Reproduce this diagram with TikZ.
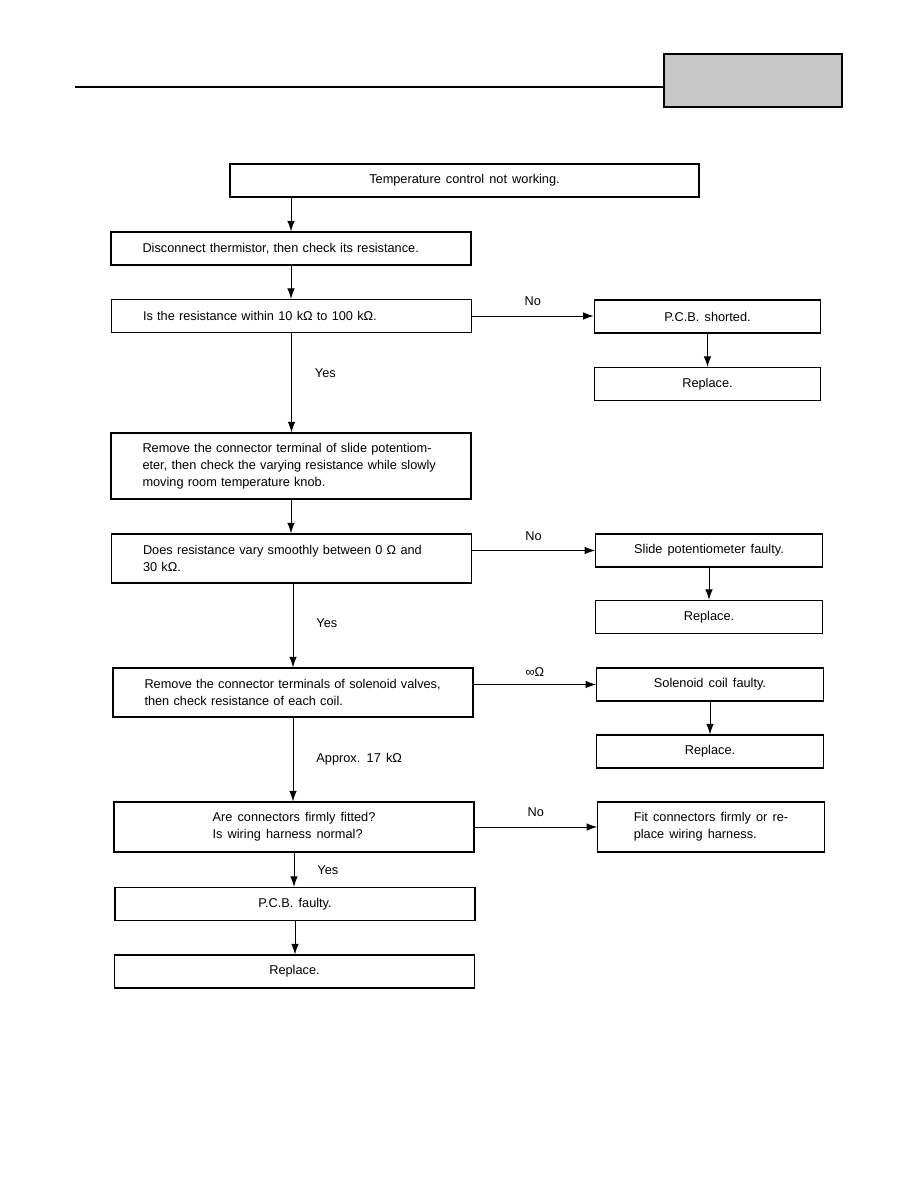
\documentclass[tikz,border=0pt]{standalone}
\usepackage{fontspec}
\setmainfont{Liberation Sans}[WordSpace=1.45]
\usetikzlibrary{arrows.meta}

\begin{document}
\begin{tikzpicture}[
  x=0.6667pt, y=-0.6667pt,
  >={Latex[length=7pt,width=5pt]},
  font=\fontsize{8.5}{11.5}\selectfont,
  box/.style={draw, line width=0.8pt, minimum height=22pt, inner sep=0pt},
  lbox/.style={box, minimum width=240pt, text width=198pt, align=left},
  cbox/.style={box, minimum width=240pt, align=center},
  rbox/.style={box, minimum width=151pt, align=center},
  link/.style={->, line width=0.6pt},
]
\useasboundingbox (0,0) rectangle (918,1188);

% Header rule and tab
\draw[line width=0.9pt] (75,87) -- (664,87);
\draw[line width=0.9pt, fill=black!22] (664,54) rectangle (842,107);

% Main column
\node[box, minimum width=312.7pt] (start) at (464.5,180.5) {Temperature control not working.};
\node[lbox] (thermo) at (291,248.5) {Disconnect thermistor, then check its resistance.};
\node[lbox] (within) at (291.5,316) {Is the resistance within 10 kΩ to 100 kΩ.};
\node[lbox, minimum height=44pt] (slide) at (291,466)
  {Remove the connector terminal of slide potentiom-\\
   eter, then check the varying resistance while slowly\\
   moving room temperature knob.};
\node[lbox, minimum height=32.7pt] (vary) at (291.5,558.5)
  {Does resistance vary smoothly between 0 Ω and\\30 kΩ.};
\node[lbox, minimum height=32.7pt] (coil) at (293,692.5)
  {Remove the connector terminals of solenoid valves,\\then check resistance of each coil.};
\node[box, minimum width=240pt, minimum height=33.3pt, align=left] (fitted) at (294,827)
  {Are connectors firmly fitted?\\Is wiring harness normal?};
\node[cbox] (pcbf) at (295,904) {P.C.B. faulty.};
\node[cbox] (repD) at (294.5,971.5) {Replace.};

% Right column
\node[rbox] (pcbs) at (707.5,316.5) {P.C.B. shorted.};
\node[rbox] (repA) at (707.5,384) {Replace.};
\node[rbox] (pot) at (709,550.5) {Slide potentiometer faulty.};
\node[rbox] (repB) at (709,617) {Replace.};
\node[rbox] (sol) at (710,684.5) {Solenoid coil faulty.};
\node[rbox] (repC) at (710,751.5) {Replace.};
\node[box, minimum width=151pt, minimum height=33.3pt, align=left] (harness) at (711,827)
  {Fit connectors firmly or re-\\place wiring harness.};

% Downward arrows
\draw[link] (thermo.north |- start.south) -- (thermo.north);
\foreach \a/\b in {thermo/within, slide/vary, pcbf/repD,
                   pcbs/repA, pot/repB, sol/repC} {
  \draw[link] (\a.south) -- (\a.south |- \b.north);
}
\draw[link] (within.south) -- (within.south |- slide.north)
  node[pos=0.4, right=12pt] {Yes};
\draw[link] (coil.north |- vary.south) -- (coil.north)
  node[pos=0.47, right=12pt] {Yes};
\draw[link] (coil.south) -- (coil.south |- fitted.north)
  node[pos=0.5, right=12pt] {Approx. 17 kΩ};
\draw[link] (fitted.south) -- (fitted.south |- pcbf.north)
  node[pos=0.5, right=12pt] {Yes};

% Side arrows
\draw[link] (within.east) -- (within.east -| pcbs.west)
  node[midway, above=3pt] {No};
\draw[link] (pot.west -| vary.east) -- (pot.west)
  node[midway, above=3pt] {No};
\draw[link] (sol.west -| coil.east) -- (sol.west)
  node[midway, above=2pt] {∞Ω};
\draw[link] (fitted.east) -- (harness.west)
  node[midway, above=3pt] {No};

\end{tikzpicture}
\end{document}
